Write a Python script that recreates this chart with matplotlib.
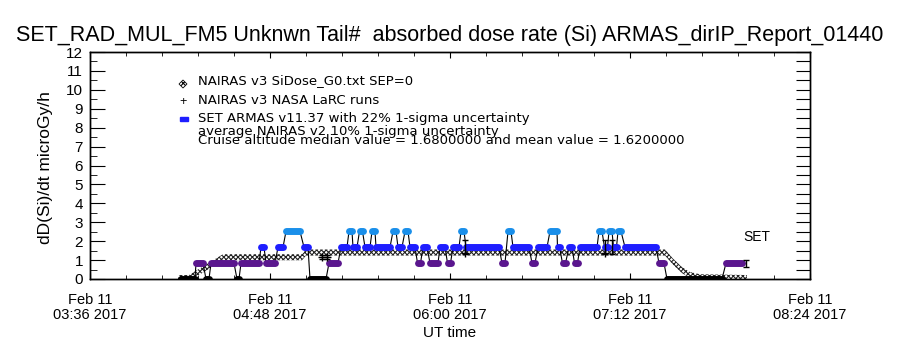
import matplotlib
matplotlib.use('Agg')
import matplotlib.pyplot as plt
import matplotlib.dates as mdates
import numpy as np
from datetime import datetime
from matplotlib.patches import Polygon, Rectangle
from matplotlib.transforms import IdentityTransform

plt.rcParams['font.family'] = ['Liberation Sans', 'DejaVu Sans']
plt.rcParams['hatch.linewidth'] = 0.8

# all times are minutes UT after 00:00 on 2017-02-11
# SET ARMAS runs of constant dose rate (start, end, level)
set_start = [252.4, 258.4, 262.4, 264.4, 274.8, 276.4, 284.4, 286.4, 291.2, 294.4,
             301.6, 304.0, 311.6, 316.4, 319.6, 321.2, 323.8, 326.0, 328.8, 330.4,
             337.2, 339.2, 342.0, 344.0, 347.0, 349.2, 352.0, 356.0, 359.0, 361.2,
             364.4, 366.4, 380.8, 383.2, 385.2, 392.8, 395.2, 400.0, 403.0, 405.0,
             407.6, 409.8, 412.0, 419.6, 421.8, 423.6, 425.4, 427.2, 430.0, 443.6,
             446.8, 470.4]
set_end = [258.0, 261.2, 263.6, 273.6, 275.6, 283.6, 285.6, 290.0, 293.2, 300.0,
           303.2, 310.4, 315.2, 318.8, 320.8, 322.8, 325.0, 328.0, 330.0, 336.0,
           338.4, 340.8, 343.2, 346.0, 348.2, 350.8, 355.2, 358.0, 360.2, 363.6,
           365.6, 379.6, 382.0, 384.4, 391.6, 394.0, 398.8, 402.8, 403.8, 406.2,
           408.8, 411.0, 418.8, 420.8, 423.0, 424.8, 426.6, 428.4, 442.4, 445.6,
           468.8, 476.8]
set_level = [0.00, 0.84, 0.00, 0.84, 0.00, 0.84, 1.68, 0.84, 1.68, 2.52,
             1.68, 0.00, 0.84, 1.68, 2.52, 1.68, 2.52, 1.68, 2.52, 1.68,
             2.52, 1.68, 2.52, 1.68, 0.84, 1.68, 0.84, 1.68, 0.84, 1.68,
             2.52, 1.68, 0.84, 2.52, 1.68, 0.84, 1.68, 2.52, 1.68, 0.84,
             1.68, 0.84, 1.68, 2.52, 1.68, 2.52, 1.68, 2.52, 1.68, 0.84,
             0.00, 0.84]
level_color = {0.00: 'black', 0.84: '#5a168e', 1.68: '#1e1eff', 2.52: '#1a8fea'}

# SET ARMAS 22% error bars
set_err_t = [366.0, 422.0, 424.8, 478.4]
set_err_v = [1.68, 1.68, 1.68, 0.84]

# NAIRAS v3 SiDose profile
nairas_t = [251.2, 255.6, 269.2, 300.8, 302.4, 446.0, 449.2, 452.7, 456.0, 460.0, 478.8]
nairas_v = [0.05, 0.05, 1.15, 1.15, 1.40, 1.40, 0.92, 0.48, 0.21, 0.09, 0.05]

# NAIRAS v3 NASA LaRC runs
larc_t = [308.8, 310.8, 366.0, 422.0]
larc_v = [1.15, 1.15, 1.40, 1.40]

xtick_min = [216, 288, 360, 432, 504]

t0 = mdates.date2num(datetime(2017, 2, 11))
def tx(m):
    return t0 + np.asarray(m, dtype=float) / 1440.0

fig = plt.figure(figsize=(9, 3.5), dpi=100)
ax = fig.add_axes([90/900, 1 - 279/350, 720/900, 227/350])

# NAIRAS hatched band
nv = np.array(nairas_v)
ax.fill_between(tx(nairas_t), nv - 0.16, nv + 0.16, facecolor='white',
                edgecolor='#222222', hatch='xxxxxxx', linewidth=0, zorder=2)

# SET connector line then thick runs
path_t, path_v = [], []
for s, e, v in zip(set_start, set_end, set_level):
    path_t += [s, e]
    path_v += [v, v]
ax.plot(tx(path_t), path_v, color='black', lw=0.8, zorder=3)
for s, e, v in zip(set_start, set_end, set_level):
    ax.plot(tx([s, e]), [v, v], color=level_color[v], lw=5,
            solid_capstyle='round', zorder=4)

ax.errorbar(tx(set_err_t), set_err_v, yerr=0.22 * np.array(set_err_v), fmt='none',
            ecolor='black', elinewidth=1, capsize=2.5, zorder=5)
ax.errorbar(tx(larc_t[:2]), larc_v[:2], yerr=0.1 * np.array(larc_v[:2]), fmt='none',
            ecolor='black', elinewidth=1, capsize=2.5, zorder=5)
ax.plot(tx(larc_t), larc_v, '+', color='black', ms=6, mew=1, zorder=5)

ax.text(tx(482.8), 2.22, 'SET', fontsize=10, ha='center', va='center')

ax.set_xlim(tx(216), tx(504))
ax.set_ylim(0, 12)
ax.xaxis_date()
ax.set_xticks(tx(xtick_min))
ax.set_xticks(tx(np.arange(216, 505, 14.4)), minor=True)
ax.xaxis.set_major_formatter(mdates.DateFormatter('%b %d\n%H:%M %Y'))
ax.set_yticks(np.arange(0, 13, 1))
ax.set_yticks(np.arange(0.5, 12, 1), minor=True)
ax.tick_params(axis='x', which='major', direction='in', length=4.5, top=True,
               labelsize=10.5, pad=10)
ax.tick_params(axis='x', which='minor', direction='in', length=3, top=True)
ax.tick_params(axis='y', which='major', direction='in', length=10.5, labelsize=11, pad=5)
ax.tick_params(axis='y', which='minor', direction='in', length=5)
for lab in ax.get_xticklabels():
    lab.set_linespacing(1.12)

ax2 = ax.twinx()
ax2.set_ylim(0, 12)
ax2.set_yticks(np.arange(0, 12.5, 0.5))
ax2.tick_params(axis='y', direction='in', length=10, labelright=False)

for a in (ax, ax2):
    for sp in a.spines.values():
        sp.set_linewidth(1.0)

fig.text(450/900, 1 - 36/350,
         'SET_RAD_MUL_FM5 Unknwn Tail#  absorbed dose rate (Si) ARMAS_dirIP_Report_01440',
         ha='center', va='center', fontsize=15.5)
fig.text(46/900, 1 - 168/350, 'dD(Si)/dt microGy/h', rotation=90,
         ha='center', va='center', fontsize=12.5)
fig.text(450/900, 1 - 333/350, 'UT time', ha='center', va='center', fontsize=11)

# legend block
H = 350
fig.patches.append(Polygon([[183, H - 80], [187, H - 84], [183, H - 88], [179, H - 84]],
                           closed=True, facecolor='white', edgecolor='black',
                           hatch='xxxx', lw=0.6, transform=IdentityTransform()))
fig.text(183/900, 1 - 102/350, '+', ha='center', va='center', fontsize=9)
fig.patches.append(Rectangle((180, H - 121), 8, 4, facecolor='#1e1eff',
                             edgecolor='#1e1eff', transform=IdentityTransform()))
legend_lines = ['NAIRAS v3 SiDose_G0.txt SEP=0',
                'NAIRAS v3 NASA LaRC runs',
                'SET ARMAS v11.37 with 22% 1-sigma uncertainty',
                'average NAIRAS v2 10% 1-sigma uncertainty',
                'Cruise altitude median value = 1.6800000 and mean value = 1.6200000']
legend_y = [81, 100, 118, 131, 141]
for txt, y in zip(legend_lines, legend_y):
    fig.text(198/900, 1 - y/350, txt, ha='left', va='center', fontsize=9.5,
             family='DejaVu Sans')

fig.savefig('out.png', dpi=100)
